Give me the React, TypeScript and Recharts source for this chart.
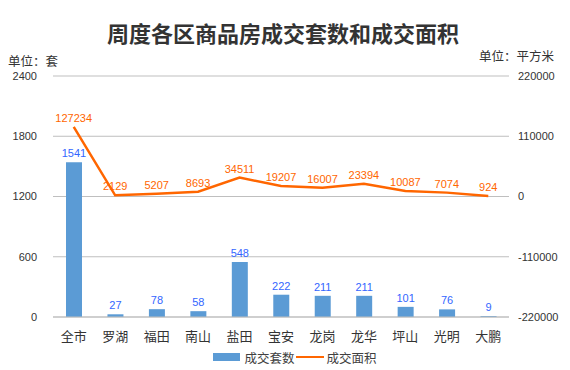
import React from 'react';
import { ComposedChart, Bar, Line, XAxis, YAxis, CartesianGrid, Legend, LabelList } from 'recharts';

// 周度各区商品房成交数据
const categories = ['全市', '罗湖', '福田', '南山', '盐田', '宝安', '龙岗', '龙华', '坪山', '光明', '大鹏'];
const unitsSold = [1541, 27, 78, 58, 548, 222, 211, 211, 101, 76, 9];
const areaSold = [127234, 2129, 5207, 8693, 34511, 19207, 16007, 23394, 10087, 7074, 924];
const leftTicks = [0, 600, 1200, 1800, 2400];
const rightTicks = [-220000, -110000, 0, 110000, 220000];

const data = categories.map((name, i) => ({ name, units: unitsSold[i], area: areaSold[i] }));

const FONT = "'Liberation Sans', 'Noto Sans CJK SC', sans-serif";
const CJK = "'Noto Sans CJK SC', sans-serif";

const renderLegend = () => (
  <div style={{ display: 'flex', justifyContent: 'center', alignItems: 'center', height: 20, transform: 'translateX(10px)', fontFamily: CJK, fontSize: 12.5, color: '#404040' }}>
    <span style={{ display: 'inline-block', width: 27, height: 8, background: '#5B9BD5', marginRight: 4 }} />
    <span style={{ marginRight: 1 }}>成交套数</span>
    <span style={{ display: 'inline-block', width: 28, height: 2, background: '#FF6600', marginRight: 3 }} />
    <span>成交面积</span>
  </div>
);

export default function App() {
  return (
    <div style={{ position: 'absolute', left: 0, top: 0, width: 570, height: 370, background: '#fff' }}>
      <div style={{ position: 'absolute', left: 0, top: 21, width: 566, textAlign: 'center', fontFamily: CJK, fontWeight: 700, fontSize: 22, lineHeight: '22px', color: '#333' }}>
        周度各区商品房成交套数和成交面积
      </div>
      <div style={{ position: 'absolute', left: 8, top: 54, fontFamily: CJK, fontSize: 12.5, lineHeight: '13px', color: '#333' }}>单位：套</div>
      <div style={{ position: 'absolute', left: 479, top: 49, fontFamily: CJK, fontSize: 12.5, lineHeight: '13px', color: '#333' }}>单位：平方米</div>
      <ComposedChart width={570} height={370} data={data} margin={{ top: 76, right: 0, left: 0, bottom: 3 }}>
        <CartesianGrid vertical={false} stroke="#BFBFBF" yAxisId="left" />
        <XAxis dataKey="name" axisLine={{ stroke: '#BFBFBF' }} tickLine={false} tickSize={0} tickMargin={15} height={30}
          tick={{ fontSize: 13, fill: '#333', fontFamily: CJK }} interval={0} />
        <YAxis yAxisId="left" domain={[0, 2400]} ticks={leftTicks} axisLine={false} tickLine={false} tickSize={0} tickMargin={16} width={53}
          tick={{ fontSize: 11, fill: '#333', fontFamily: FONT }} />
        <YAxis yAxisId="right" orientation="right" domain={[-220000, 220000]} ticks={rightTicks} axisLine={false} tickLine={false} tickSize={0} tickMargin={9} width={61}
          tick={{ fontSize: 11, fill: '#333', fontFamily: FONT }} />
        <Legend verticalAlign="bottom" height={20} content={renderLegend} />
        <Bar yAxisId="left" dataKey="units" name="成交套数" fill="#5B9BD5" barSize={16} isAnimationActive={false}>
          <LabelList dataKey="units" position="top" offset={5} fill="#3366FF" fontSize={11} fontFamily={FONT} />
        </Bar>
        <Line yAxisId="right" dataKey="area" name="成交面积" type="linear" stroke="#FF6600" strokeWidth={2.5} dot={false} activeDot={false} isAnimationActive={false}>
          <LabelList dataKey="area" position="top" offset={5} fill="#FF6600" fontSize={11} fontFamily={FONT} />
        </Line>
      </ComposedChart>
    </div>
  );
}
